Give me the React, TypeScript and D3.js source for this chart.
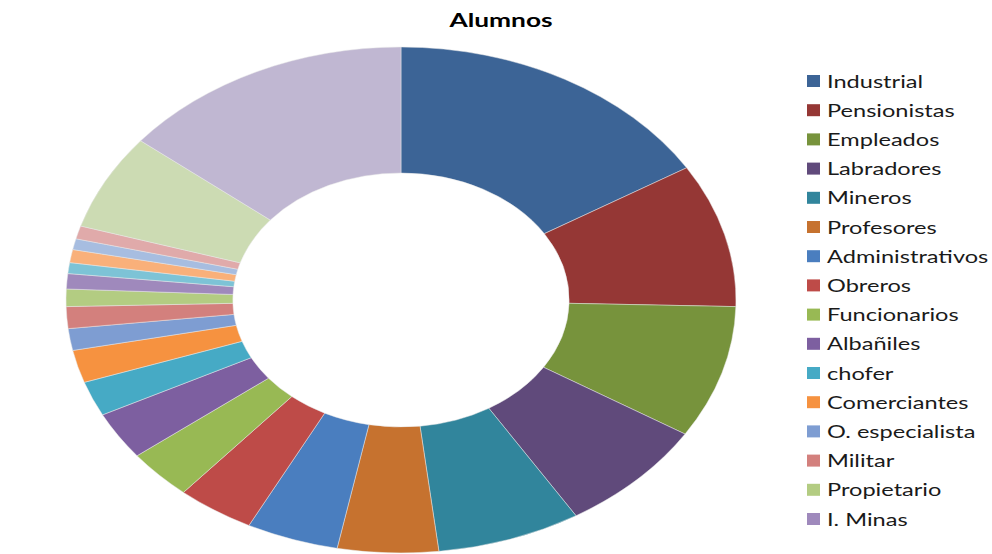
import React, { useEffect } from 'react';
import * as d3 from 'd3';

// categories, in the order Excel drew them (clockwise from 12 o'clock)
const categories = [
  'Industrial', 'Pensionistas', 'Empleados', 'Labradores', 'Mineros', 'Profesores',
  'Administrativos', 'Obreros', 'Funcionarios', 'Albañiles', 'chofer', 'Comerciantes',
  'O. especialista', 'Militar', 'Propietario', 'I. Minas',
  'Categoría 17', 'Categoría 18', 'Categoría 19', 'Categoría 20', 'Categoría 21', 'Categoría 22',
];

// estimated number of students per category
const alumnos = [117, 66, 61, 53, 50, 35, 32, 27, 23, 22, 16, 15, 10, 10, 8, 7, 5, 6, 5, 6, 44, 102];

// only the first 16 entries fit in the legend
const legendCount = 16;

const colors = [
  '#3C6496', '#953735', '#77933C', '#604A7B', '#31859C', '#C6722F',
  '#4A7EBF', '#BE4B48', '#98B954', '#7D5FA0', '#46AAC5', '#F69240',
  '#7E9DD2', '#D3807D', '#B3CC82', '#9F89BC',
  '#7DC3D6', '#F9B07A', '#A7BDE0', '#E0AAAA', '#CCDBB3', '#C0B7D2',
];

const W = 992;
const H = 554;
const cx = 401;
const cy = 300;
const outerR = 253;
const innerR = 127;
const stretch = 1.324;

export default function App() {
  useEffect(() => {
    document.body.style.margin = '0';
  }, []);

  const pie = d3.pie<number>().sort(null).value(d => d);
  const arcs = pie(alumnos);
  const arc = d3.arc<d3.PieArcDatum<number>>().innerRadius(innerR).outerRadius(outerR);

  const color = d3.scaleOrdinal<string, string>().domain(categories).range(colors);

  const legendY = d3.scalePoint<string>()
    .domain(categories.slice(0, legendCount))
    .range([81, 519]);

  return (
    <svg width={W} height={H} style={{ display: 'block', background: '#fff' }}
      fontFamily="Lato, 'Open Sans', sans-serif">
      <text transform={`translate(501,27) scale(1.35,1)`} textAnchor="middle"
        fontSize={19.5} fontWeight="bold" fill="#000">Alumnos</text>

      <g transform={`translate(${cx},${cy}) scale(${stretch},1)`}>
        {arcs.map((a, i) => (
          <path key={i} d={arc(a) ?? ''} fill={color(categories[i])}
            stroke="#e8e8e8" strokeOpacity={0.7} strokeWidth={0.6} />
        ))}
      </g>

      <g>
        {categories.slice(0, legendCount).map(c => {
          const y = legendY(c) ?? 0;
          return (
            <g key={c}>
              <rect x={807} y={y - 6} width={13} height={12} fill={color(c)} />
              <text transform={`translate(827,${y + 6.5}) scale(1.31,1)`} fontSize={18} fill="#1a1a1a">{c}</text>
            </g>
          );
        })}
      </g>
    </svg>
  );
}
